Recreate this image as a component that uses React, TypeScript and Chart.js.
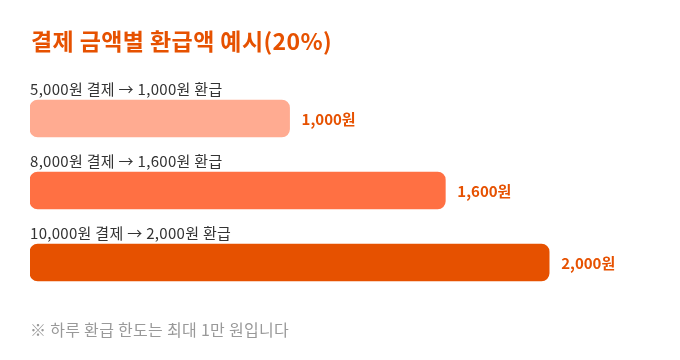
import React, { useEffect, useRef } from "react";
import { Chart, registerables } from "chart.js";

Chart.register(...registerables);

const TITLE = "결제 금액별 환급액 예시(20%)";
const FOOTNOTE = "※ 하루 환급 한도는 최대 1만 원입니다";
const payments = [5000, 8000, 10000];
const refunds = [1000, 1600, 2000];
const barColors = ["#FFAB91", "#FF7043", "#E65100"];
const categories = payments.map((p, i) => `${p.toLocaleString("en-US")}원 결제 → ${refunds[i].toLocaleString("en-US")}원 환급`);
const valueLabels = refunds.map((r) => `${r.toLocaleString("en-US")}원`);

const FONT = "'Noto Sans CJK KR', 'Noto Sans', sans-serif";

const textPlugin = {
  id: "texts",
  afterDatasetsDraw(chart: any) {
    const ctx = chart.ctx;
    const meta = chart.getDatasetMeta(0);
    ctx.save();
    ctx.textAlign = "left";
    // title
    ctx.fillStyle = "#E65100";
    ctx.font = `bold 23px ${FONT}`;
    (ctx as any).letterSpacing = "0.4px";
    ctx.textBaseline = "middle";
    ctx.fillText(TITLE, 31, 41);
    meta.data.forEach((bar: any, i: number) => {
      const { x, y, base, height } = bar.getProps(["x", "y", "base", "height"], true);
      ctx.fillStyle = "#333333";
      ctx.font = `15px ${FONT}`;
      (ctx as any).letterSpacing = "0.3px";
      ctx.textBaseline = "alphabetic";
      ctx.fillText(categories[i], base, y - height / 2 - 5);
      ctx.fillStyle = "#E65100";
      ctx.font = `bold 15px ${FONT}`;
      (ctx as any).letterSpacing = "0px";
      ctx.textBaseline = "middle";
      ctx.fillText(valueLabels[i], x + 12, y + 1);
    });
    ctx.fillStyle = "#999999";
    ctx.font = `16px ${FONT}`;
    (ctx as any).letterSpacing = "0.3px";
    ctx.textBaseline = "middle";
    ctx.fillText(FOOTNOTE, 30, 330);
    ctx.restore();
  },
};

export default function App() {
  const ref = useRef<HTMLCanvasElement>(null);
  useEffect(() => {
    if (!ref.current) return;
    const chart = new Chart(ref.current, {
      type: "bar",
      data: {
        labels: categories,
        datasets: [
          {
            data: refunds,
            backgroundColor: barColors,
            borderRadius: 8,
            borderSkipped: false,
            barThickness: 37,
          },
        ],
      },
      options: {
        indexAxis: "y",
        animation: false,
        responsive: false,
        maintainAspectRatio: false,
        layout: { padding: { left: 30, right: 27, top: 82.5, bottom: 61.5 } },
        plugins: { legend: { display: false }, tooltip: { enabled: false }, title: { display: false } },
        scales: {
          x: { display: false, min: 0, max: 2400 },
          y: { display: false },
        },
      },
      plugins: [textPlugin],
    });
    return () => chart.destroy();
  }, []);
  return (
    <div style={{ position: "fixed", left: 0, top: 0, width: 680, height: 360, background: "#fff" }}>
      <canvas ref={ref} width={680} height={360} style={{ width: 680, height: 360 }} />
    </div>
  );
}
